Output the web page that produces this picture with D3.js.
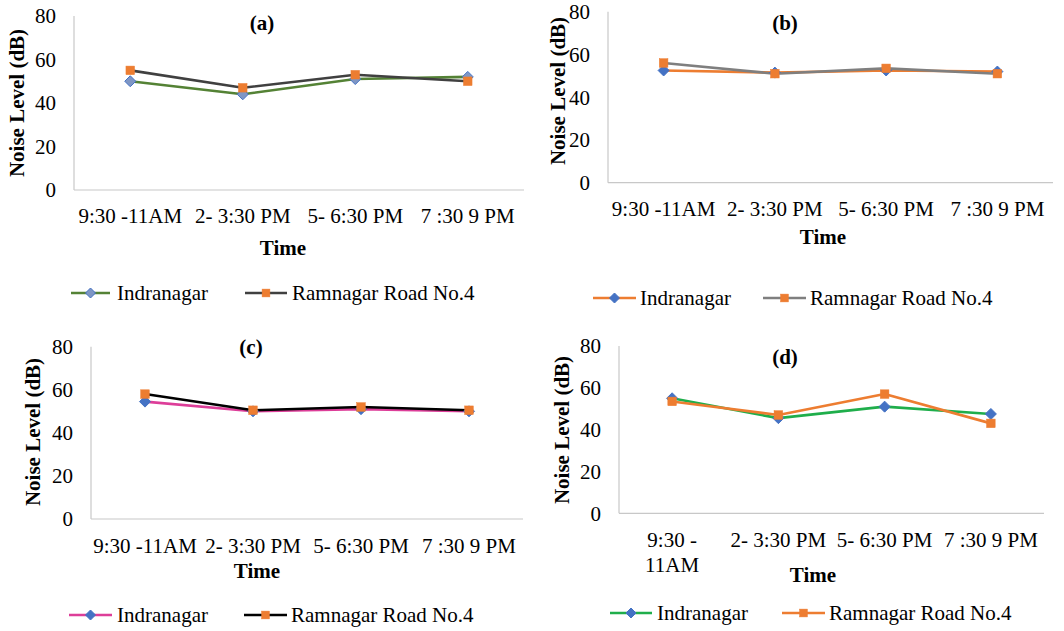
<!DOCTYPE html>
<html>
<head>
<meta charset="utf-8">
<script src="https://cdn.jsdelivr.net/npm/d3@7"></script>
<style>
  html, body { margin: 0; padding: 0; background: #fff; }
</style>
</head>
<body>
<svg id="chart" width="1064" height="631"></svg>
<script>
// ---- Data ----
const categories = ["9:30 -11AM", "2- 3:30 PM", "5- 6:30 PM", "7 :30 9 PM"];
const categoriesD = [["9:30 -", "11AM"], ["2- 3:30 PM"], ["5- 6:30 PM"], ["7 :30 9 PM"]];
const yTicks = [0, 20, 40, 60, 80];
const seriesNames = ["Indranagar", "Ramnagar Road No.4"];
const panelTitles = ["(a)", "(b)", "(c)", "(d)"];

const indranagarA = [50, 44, 51, 52];
const ramnagarA   = [55, 47, 53, 50];
const indranagarB = [52.5, 51.5, 52.5, 52];
const ramnagarB   = [56, 51, 53.5, 51];
const indranagarC = [54.5, 50, 51, 50];
const ramnagarC   = [58, 50.5, 52, 50.5];
const indranagarD = [55, 45.5, 51, 47.5];
const ramnagarD   = [53.5, 47, 57, 43];

// ---- Layout / styles ----
const panels = [
  { title: panelTitles[0], data: [indranagarA, ramnagarA], cats: categories.map(c => [c]),
    left: 74, right: 524, top: 16, bottom: 190, titleX: 262, titleY: 23,
    tickY: 216, timeX: 283, timeY: 248, ylabX: 17, ylabY: 103, legY: 293,
    leg: [[71, 110, 117], [245, 287, 292]],
    lineColors: ["#548235", "#404040"], markerFill: ["#7f96c4", "#ED7D31"], markerStroke: ["#4472C4", "#ED7D31"] },
  { title: panelTitles[1], data: [indranagarB, ramnagarB], cats: categories.map(c => [c]),
    left: 608, right: 1053, top: 11.7, bottom: 182.7, titleX: 785, titleY: 23,
    tickY: 209, timeX: 823, timeY: 237, ylabX: 558, ylabY: 91, legY: 298,
    leg: [[593, 636, 640], [763, 806, 810]],
    lineColors: ["#ED7D31", "#7f7f7f"], markerFill: ["#4472C4", "#ED7D31"], markerStroke: ["#4472C4", "#ED7D31"] },
  { title: panelTitles[2], data: [indranagarC, ramnagarC], cats: categories.map(c => [c]),
    left: 91, right: 523, top: 346.7, bottom: 519, titleX: 251, titleY: 347,
    tickY: 546, timeX: 257, timeY: 571, ylabX: 33, ylabY: 432, legY: 615,
    leg: [[69, 112, 117], [244, 287, 291]],
    lineColors: ["#dd3e99", "#000000"], markerFill: ["#4472C4", "#ED7D31"], markerStroke: ["#4472C4", "#ED7D31"] },
  { title: panelTitles[3], data: [indranagarD, ramnagarD], cats: categoriesD,
    left: 619, right: 1044, top: 346, bottom: 513.3, titleX: 785, titleY: 357,
    tickY: 540, timeX: 813, timeY: 575, ylabX: 562, ylabY: 430, legY: 613,
    leg: [[610, 652, 657], [782, 825, 829]],
    lineColors: ["#1fae4b", "#ED7D31"], markerFill: ["#4472C4", "#ED7D31"], markerStroke: ["#4472C4", "#ED7D31"] }
];

const FONT = "Liberation Serif";
const FS = 21;
const svg = d3.select("#chart").attr("font-family", FONT);

function drawMarker(g, type, x, y, fill, stroke, r) {
  if (type === 0) {
    g.append("path")
      .attr("d", `M0,${-r}L${r},0L0,${r}L${-r},0Z`)
      .attr("transform", `translate(${x},${y})`)
      .attr("fill", fill).attr("stroke", stroke).attr("stroke-width", 1);
  } else {
    const h = r * 0.78;
    g.append("rect")
      .attr("x", x - h).attr("y", y - h).attr("width", 2 * h).attr("height", 2 * h)
      .attr("fill", fill).attr("stroke", stroke).attr("stroke-width", 0.5);
  }
}

function txt(g, x, y, s, opts = {}) {
  return g.append("text").attr("x", x).attr("y", y).attr("dy", "0.35em")
    .attr("font-family", FONT).attr("font-size", FS).attr("fill", "#000")
    .attr("text-anchor", opts.anchor || "start")
    .attr("font-weight", opts.bold ? "bold" : "normal")
    .text(s);
}

panels.forEach(p => {
  const g = svg.append("g");
  const x = d3.scaleBand().domain(d3.range(categories.length)).range([p.left, p.right]);
  const y = d3.scaleLinear().domain([0, 80]).range([p.bottom, p.top]);
  const cx = i => x(i) + x.bandwidth() / 2;

  // axes
  g.append("line").attr("x1", p.left).attr("x2", p.left).attr("y1", y(80)).attr("y2", y(0))
    .attr("stroke", "#c8c8c8").attr("stroke-width", 1.2);
  g.append("line").attr("x1", p.left).attr("x2", p.right).attr("y1", y(0)).attr("y2", y(0))
    .attr("stroke", "#c8c8c8").attr("stroke-width", 1.2);

  // y tick labels
  yTicks.forEach(t => txt(g, p.left - 18, y(t), t, { anchor: "end" }));

  // x tick labels
  p.cats.forEach((lines, i) => {
    lines.forEach((t, j) => txt(g, cx(i), p.tickY + j * 25, t, { anchor: "middle" }));
  });

  // axis titles
  txt(g, p.timeX, p.timeY, "Time", { anchor: "middle", bold: true });
  g.append("text").attr("transform", `translate(${p.ylabX},${p.ylabY}) rotate(-90)`)
    .attr("dy", "0.35em").attr("text-anchor", "middle").attr("font-family", FONT)
    .attr("font-size", FS).attr("font-weight", "bold").text("Noise Level (dB)");

  // panel title
  txt(g, p.titleX, p.titleY, p.title, { anchor: "middle", bold: true });

  // series
  const line = d3.line().x((d, i) => cx(i)).y(d => y(d));
  p.data.forEach((vals, s) => {
    g.append("path").datum(vals).attr("d", line).attr("fill", "none")
      .attr("stroke", p.lineColors[s]).attr("stroke-width", 2.6).attr("stroke-linejoin", "round");
  });
  p.data.forEach((vals, s) => {
    vals.forEach((v, i) => drawMarker(g, s, cx(i), y(v), p.markerFill[s], p.markerStroke[s], 5.5));
  });

  // legend
  p.leg.forEach((L, s) => {
    g.append("line").attr("x1", L[0]).attr("x2", L[1]).attr("y1", p.legY).attr("y2", p.legY)
      .attr("stroke", p.lineColors[s]).attr("stroke-width", 2.6);
    drawMarker(g, s, (L[0] + L[1]) / 2, p.legY, p.markerFill[s], p.markerStroke[s], 5);
    txt(g, L[2], p.legY, seriesNames[s]);
  });
});
</script>
</body>
</html>
